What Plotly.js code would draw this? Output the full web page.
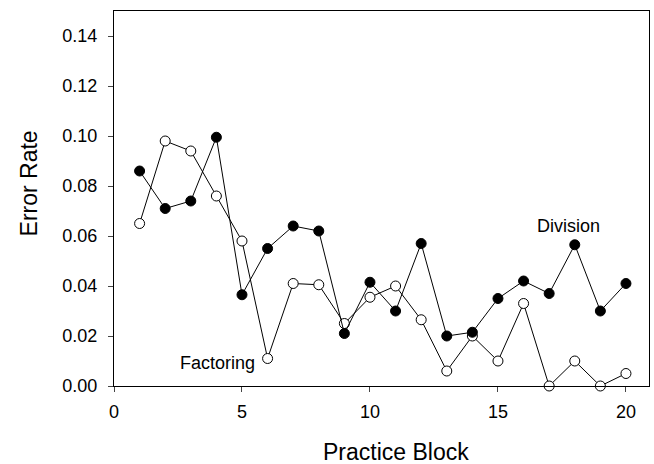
<!DOCTYPE html>
<html><head><meta charset="utf-8">
<script src="https://cdn.plot.ly/plotly-3.0.1.min.js"></script>
<style>html,body{margin:0;padding:0;background:#fff}</style>
</head><body>
<div id="chart" style="width:654px;height:464px"></div>
<script>
const blocks = [1,2,3,4,5,6,7,8,9,10,11,12,13,14,15,16,17,18,19,20];
const division = [0.086,0.071,0.074,0.0995,0.0365,0.055,0.064,0.062,0.021,0.0415,0.030,0.057,0.020,0.0215,0.035,0.042,0.037,0.0565,0.030,0.041];
const factoring = [0.065,0.098,0.094,0.076,0.058,0.011,0.041,0.0405,0.025,0.0355,0.040,0.0265,0.006,0.020,0.010,0.033,0.000,0.010,0.000,0.005];
const xTicks = [0,5,10,15,20];
const yTicks = [0,0.02,0.04,0.06,0.08,0.10,0.12,0.14];
const yTickText = yTicks.map(v => v.toFixed(2));

const font = 'Liberation Sans, Arial, sans-serif';
const traces = [
  {x: blocks, y: factoring, mode: 'lines+markers', name: 'Factoring', cliponaxis: false,
   line: {color: '#000', width: 1},
   marker: {symbol: 'circle', size: 10, color: '#fff', line: {color: '#000', width: 1}}},
  {x: blocks, y: division, mode: 'lines+markers', name: 'Division', cliponaxis: false,
   line: {color: '#000', width: 1},
   marker: {symbol: 'circle', size: 10, color: '#000', line: {color: '#000', width: 1}}}
];
const layout = {
  width: 654, height: 464,
  margin: {l: 114, r: 5, t: 11, b: 78},
  paper_bgcolor: '#fff', plot_bgcolor: '#fff',
  showlegend: false,
  font: {family: font, color: '#000', size: 18},
  xaxis: {range: [0, 20.9], tickvals: xTicks, ticks: 'outside', ticklen: 5, tickwidth: 1,
    showgrid: false, zeroline: false, showline: true, linecolor: '#000', linewidth: 1, mirror: true,
    tickfont: {size: 18}, ticklabelstandoff: 4},
  yaxis: {range: [0, 0.15], tickvals: yTicks, ticktext: yTickText, ticks: 'outside', ticklen: 5, tickwidth: 1,
    showgrid: false, zeroline: false, showline: true, linecolor: '#000', linewidth: 1, mirror: true,
    tickfont: {size: 18}, ticklabelstandoff: 7},
  annotations: [
    {x: 17.75, y: 0.0642, text: 'Division', showarrow: false, font: {size: 18}},
    {x: 4.06, y: 0.0092, text: 'Factoring', showarrow: false, font: {size: 18}},
    {xref: 'paper', yref: 'paper', x: 0.527, y: -0.176, xanchor: 'center', yanchor: 'middle',
     text: 'Practice Block', showarrow: false, font: {size: 23}},
    {xref: 'paper', yref: 'paper', x: -0.159, y: 0.54, xanchor: 'center', yanchor: 'middle',
     textangle: -90, text: 'Error Rate', showarrow: false, font: {size: 23}}
  ]
};
Plotly.newPlot('chart', traces, layout, {displayModeBar: false, staticPlot: true});
</script>
</body></html>
